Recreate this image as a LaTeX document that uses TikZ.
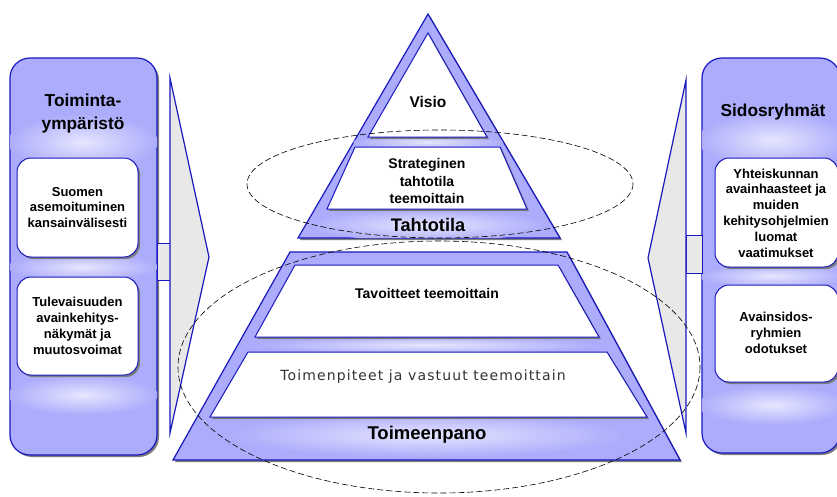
\documentclass[tikz,border=0pt]{standalone}
\usepackage{fontspec}
\setmainfont{Liberation Sans}
\newfontfamily\verd[LetterSpace=8]{DejaVu Sans}
\usetikzlibrary{shadows}
\definecolor{pblue}{RGB}{172,172,252}
\definecolor{pedge}{RGB}{24,24,190}
\definecolor{wgray}{RGB}{232,232,232}
\definecolor{shgray}{RGB}{125,125,125}
\tikzset{
 shad/.style={general shadow={fill=shgray, shadow xshift=2pt, shadow yshift=-2pt}},
 panelbox/.style={draw=pedge, line width=1.2pt, fill=pblue, rounded corners=20pt, shad, inner sep=0pt},
 innerbox/.style={draw=pedge, line width=1pt, fill=white, rounded corners=14pt, shad, inner sep=0pt},
 wedgeshape/.style={draw=pedge, line width=1.2pt, fill=wgray, line join=miter},
 linkbox/.style={draw=pedge, line width=1pt, fill=wgray},
 boxtext/.style={font=\bfseries\fontsize{13}{15.8}\selectfont, align=center},
 titletext/.style={font=\bfseries\fontsize{17.3}{23}\selectfont, align=center},
 layer/.style={draw=pedge, line width=1pt, fill=white, shad},
 pyr/.style={draw=pedge, line width=1.2pt, fill=pblue, shad},
 ring/.style={draw=black, line width=0.6pt, dash pattern=on 6pt off 3pt},
 glow/.style={inner color=white!70!pblue, outer color=pblue},
}
\begin{document}
\begin{tikzpicture}[x=1pt,y=-1pt]
\useasboundingbox (0,0) rectangle (837,496);
\clip (0,0) rectangle (837,496);
\fill[white] (0,0) rectangle (837,496);

% ---------- left panel ----------
\node[panelbox, minimum width=147pt, minimum height=397pt] (lp) at (83.5,256.5) {};
\begin{scope}
  \clip[rounded corners=20pt] (10,58) rectangle (157,455);
  \shade[glow] (83,142) ellipse [x radius=75, y radius=28];
  \shade[glow] (83,267) ellipse [x radius=75, y radius=14];
  \shade[glow] (83,395) ellipse [x radius=75, y radius=20];
\end{scope}
\node[innerbox, minimum width=121pt, minimum height=99pt] (lb1) at (77.5,207.5) {};
\node[innerbox, minimum width=121pt, minimum height=98pt] (lb2) at (77.5,326) {};
\node[titletext] (lt) at (83,114) {Toiminta-\\ympäristö};
\node[boxtext] (lb1t) at (lb1.center) {Suomen\\asemoituminen\\kansainvälisesti};
\node[boxtext] (lb2t) at (lb2.center) {Tulevaisuuden\\avainkehitys-\\näkymät ja\\muutosvoimat};
\draw[linkbox] (157,243) rectangle (170,280);
\draw[wedgeshape] (170,78) -- (209,257) -- (170,433) -- cycle;

% ---------- right panel ----------
\node[panelbox, minimum width=138pt, minimum height=395pt] (rp) at (771,255.5) {};
\begin{scope}
  \clip[rounded corners=20pt] (702,58) rectangle (840,453);
  \shade[glow] (773,140) ellipse [x radius=75, y radius=28];
  \shade[glow] (773,276) ellipse [x radius=75, y radius=12];
  \shade[glow] (773,405) ellipse [x radius=75, y radius=20];
\end{scope}
\node[innerbox, minimum width=123pt, minimum height=109pt] (rb1) at (776.5,212.5) {};
\node[innerbox, minimum width=123pt, minimum height=97pt] (rb2) at (776.5,333.5) {};
\node[titletext] (rt) at (773,112) {Sidosryhmät};
\node[boxtext] (rb1t) at (776,213) {Yhteiskunnan\\avainhaasteet ja\\muiden\\kehitysohjelmien\\luomat\\vaatimukset};
\node[boxtext] (rb2t) at (776,333) {Avainsidos-\\ryhmien\\odotukset};
\draw[linkbox] (686,235) rectangle (702,273);
\draw[wedgeshape] (686,80) -- (648,258) -- (686,433) -- cycle;

% ---------- top pyramid ----------
\draw[pyr] (428,14) -- (560,238) -- (298,238) -- cycle;
\begin{scope}
  \clip (428,14) -- (560,238) -- (298,238) -- cycle;
  \shade[glow] (428,142) ellipse [x radius=75, y radius=8];
  \shade[glow] (428,225) ellipse [x radius=120, y radius=16];
\end{scope}
\draw[layer] (428,33) -- (487,137) -- (368,137) -- cycle;
\draw[layer] (355,147) -- (500,147) -- (527,209) -- (327,209) -- cycle;
\node[font=\bfseries\fontsize{15.5}{17}\selectfont] (visio) at (428,102) {Visio};
\node[font=\bfseries\fontsize{14}{17.5}\selectfont, align=center] (strat) at (427,181) {Strateginen\\tahtotila\\teemoittain};
\node[font=\bfseries\fontsize{18.2}{20}\selectfont] (taht) at (428,225) {Tahtotila};

% ---------- bottom trapezoid ----------
\draw[pyr] (290,252) -- (567,252) -- (680,460) -- (173,460) -- cycle;
\begin{scope}
  \clip (290,252) -- (567,252) -- (680,460) -- (173,460) -- cycle;
  \shade[glow] (427,345) ellipse [x radius=170, y radius=9];
  \shade[glow] (427,435) ellipse [x radius=200, y radius=22];
\end{scope}
\draw[layer] (295,265) -- (558,265) -- (599,337) -- (255,337) -- cycle;
\draw[layer] (248,352) -- (607,352) -- (647,417) -- (210,417) -- cycle;
\node[font=\bfseries\fontsize{14}{16}\selectfont] (tav) at (427,293) {Tavoitteet teemoittain};
\node[font=\verd\fontsize{14}{16}\selectfont, text=black!80] (toim) at (423,377) {Toimenpiteet ja vastuut teemoittain};
\node[font=\bfseries\fontsize{18.5}{20}\selectfont] (toimp) at (427,435) {Toimeenpano};

% ---------- dashed rings ----------
\draw[ring] (440,184) ellipse [x radius=193, y radius=54];
\draw[ring] (439,367) ellipse [x radius=261, y radius=126];
\end{tikzpicture}
\end{document}
